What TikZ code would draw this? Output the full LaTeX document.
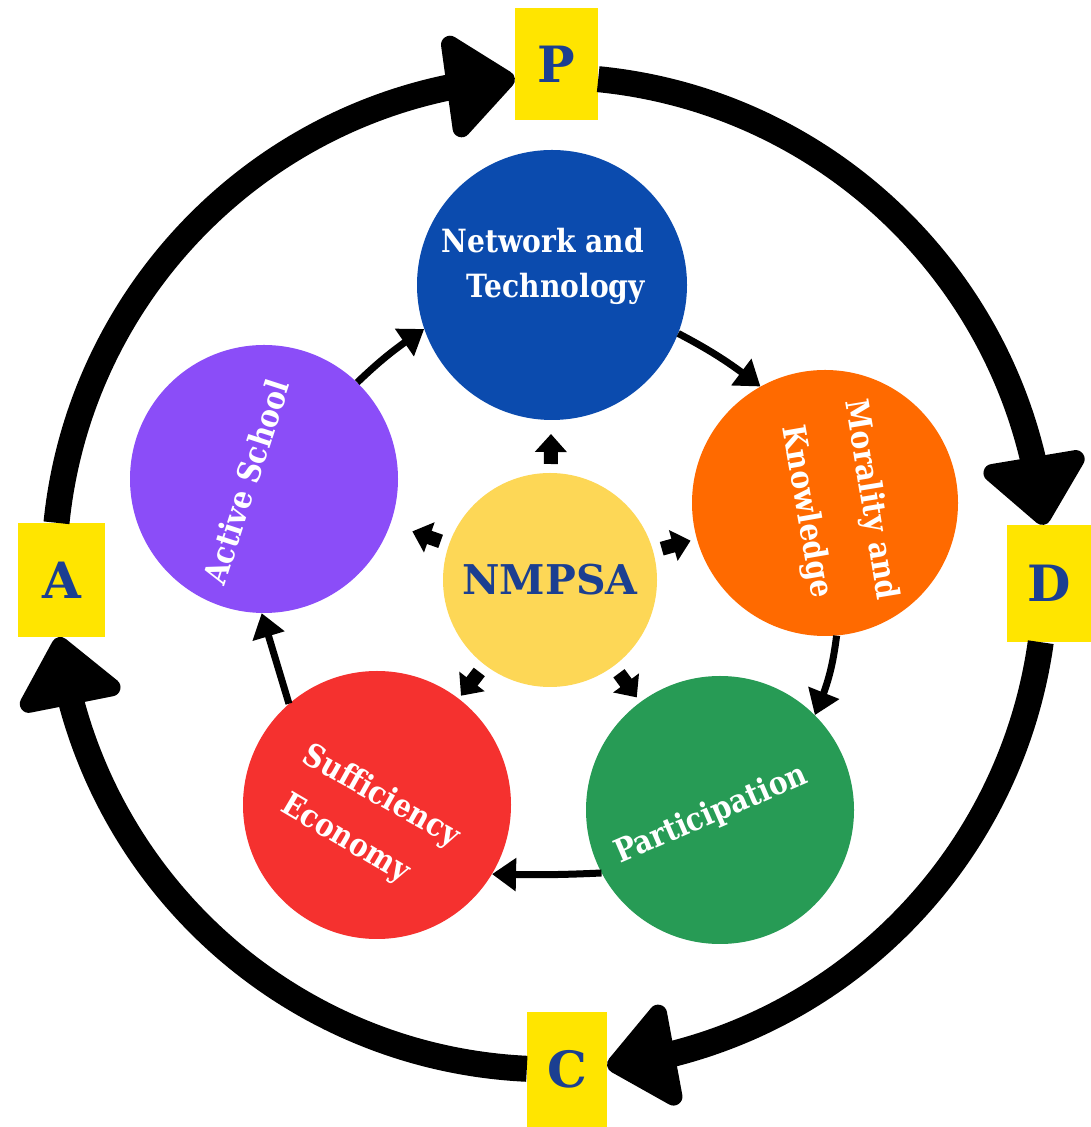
\documentclass[tikz,border=0pt]{standalone}
\usepackage{fontspec}
\newfontfamily\slabfont{DejaVu Serif}
\newfontfamily\labelfont{DejaVu Serif}[FakeStretch=0.88]
\usetikzlibrary{arrows.meta,bending,calc}
\definecolor{boxyellow}{HTML}{FFE500}
\definecolor{letterblue}{HTML}{1B3F91}
\definecolor{cblue}{HTML}{0B4BAE}
\definecolor{corange}{HTML}{FF6A00}
\definecolor{cgreen}{HTML}{279B55}
\definecolor{cred}{HTML}{F5312F}
\definecolor{cpurple}{HTML}{8B4DF8}
\definecolor{cyellow}{HTML}{FDD756}
\tikzset{
  ringbox/.style={rectangle, fill=boxyellow, inner sep=0pt, text=letterblue,
    font=\slabfont\bfseries\fontsize{50pt}{50pt}\selectfont},
  topic/.style={circle, inner sep=0pt, draw=none},
  ring/.style={line width=26pt, -{Triangle[length=74pt,width=118pt,round,line width=18pt]}},
  link/.style={line width=7pt, -{Triangle[length=24pt,width=32pt]}},
  blockarrow/.style={line width=14pt, -{Triangle[length=18pt,width=31pt]}},
  toptext/.style={text=white, inner sep=0pt, font=\labelfont\bfseries\fontsize{32pt}{34pt}\selectfont}
}
\begin{document}
\begin{tikzpicture}[x=1pt,y=1pt]
\fill[white] (0,0) rectangle (1091,1127);
\useasboundingbox (0,0) rectangle (1091,1127);

% topic circles
\node[topic, fill=cblue,   minimum size=270pt] (net) at (552,842) {};
\node[topic, fill=corange, minimum size=266pt] (mor) at (825,624) {};
\node[topic, fill=cgreen,  minimum size=268pt] (par) at (720,317) {};
\node[topic, fill=cred,    minimum size=268pt] (suf) at (377,322) {};
\node[topic, fill=cpurple, minimum size=268pt] (act) at (264,648) {};
\node[topic, fill=cyellow, minimum size=214pt, text=letterblue,
      font=\slabfont\bfseries\fontsize{41pt}{41pt}\selectfont] (nm) at (550,547) {NMPSA};

% PDCA boxes
\node[ringbox, minimum width=83pt, minimum height=112pt] (P) at (556.5,1063) {P};
\node[ringbox, minimum width=84pt, minimum height=117pt] (D) at (1049,543.5) {D};
\node[ringbox, minimum width=80pt, minimum height=115pt] (C) at (567,57.5) {C};
\node[ringbox, minimum width=87pt, minimum height=114pt] (A) at (61.5,547) {A};

% outer PDCA ring
\draw[ring] (P.-20) to[out=-5.6, in=95.6, looseness=0.96] (D.95);
\draw[ring] (D.-98) to[out=-98, in=6.6, looseness=0.95] (C.5);
\draw[ring] (C.179) to[out=177.3, in=-82.6, looseness=0.963] (A.-93);
\draw[ring] (A.95) to[out=84.2, in=184, looseness=0.964] (P.199);

% links between topics
\draw[link] (act.46) to[bend left=5] (net.199);
\draw[link] (net.-21) to[bend left=5] (mor.119);
\draw[link] (mor.-85) to[bend left=8] (par.45);
\draw[link] (par.208) to[bend left=2] (suf.-31);
\draw[link] (suf.131) -- (act.-91);

% small arrows from the centre
\foreach \t in {net,mor,par,suf,act}
  \draw[blockarrow] ($(nm)!116pt!(\t)$) -- ($(nm)!146pt!(\t)$);

% labels
\node[toptext] (tnet1) at (543,886) {Network and};
\node[toptext] (tnet2) at (556,838) {Technology};
\node[toptext, rotate=-80.6] (tmor1) at (870,627) {Morality and};
\node[toptext, rotate=-80.2] (tmor2) at (806,615) {Knowledge};
\node[toptext, rotate=72] (tact) at (246,645) {Active School};
\node[toptext, rotate=23.4] (tpar) at (711,312) {Participation};
\node[toptext, rotate=-29.3] (tsuf1) at (381,330) {Sufficiency};
\node[toptext, rotate=-30.5] (tsuf2) at (345,287) {Economy};
\end{tikzpicture}
\end{document}
